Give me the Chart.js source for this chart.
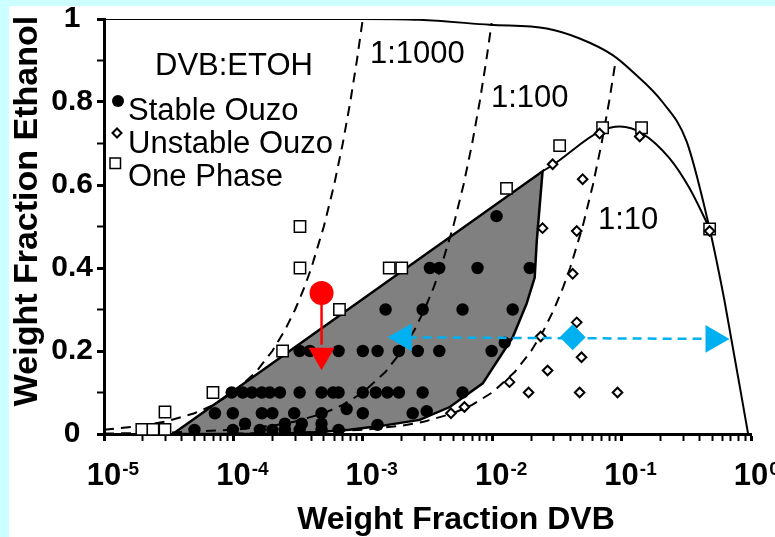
<!DOCTYPE html>
<html>
<head>
<meta charset="utf-8">
<script src="https://cdn.jsdelivr.net/npm/chart.js@4.4.1/dist/chart.umd.min.js"></script>
<style>
  html, body { margin: 0; padding: 0; background: #fff; }
</style>
</head>
<body>
<canvas id="myChart" width="775" height="537"></canvas>
<script>
// Ejes
const xTickExponents = [-5, -4, -3, -2, -1, 0];
const yTickLabels = ['0', '0.2', '0.4', '0.6', '0.8', '1'];

// Puntos experimentales [DVB, etanol]
const stableOuzo = [
  [0.0108, 0.525],
  [3.3e-3, 0.4], [3.9e-3, 0.4], [7.7e-3, 0.4], [0.0195, 0.4],
  [1.5e-3, 0.3], [2.9e-3, 0.3], [5.9e-3, 0.3], [0.0144, 0.3],
  [0.0125, 0.22],
  [3.25e-4, 0.2], [3.9e-4, 0.2], [6.5e-4, 0.2], [1.0e-3, 0.2], [1.3e-3, 0.2], [1.9e-3, 0.2], [2.66e-3, 0.2], [3.9e-3, 0.2], [9.9e-3, 0.2],
  [9.7e-5, 0.1], [1.18e-4, 0.1], [1.39e-4, 0.1], [1.66e-4, 0.1], [1.91e-4, 0.1], [2.29e-4, 0.1], [3.25e-4, 0.1], [4.8e-4, 0.1],
  [5.9e-4, 0.1], [6.5e-4, 0.1], [1.0e-3, 0.1], [1.26e-3, 0.1], [1.55e-3, 0.1], [1.9e-3, 0.1], [2.9e-3, 0.1], [5.9e-3, 0.1],
  [7.2e-5, 0.05], [9.9e-5, 0.05], [1.66e-4, 0.05], [2.0e-4, 0.05], [2.95e-4, 0.05], [4.8e-4, 0.05], [7.5e-4, 0.06], [1.0e-3, 0.05],
  [2.43e-3, 0.05], [3.12e-3, 0.055],
  [1.23e-4, 0.025], [2.5e-4, 0.025], [3.38e-4, 0.025], [4.8e-4, 0.025], [1.3e-3, 0.022],
  [5.0e-5, 0.01], [9.9e-5, 0.01], [1.6e-4, 0.01], [2.0e-4, 0.01], [2.5e-4, 0.01], [3.25e-4, 0.01], [4.8e-4, 0.01], [6.5e-4, 0.01]
];
const unstableOuzo = [
  [0.0293, 0.65], [0.050, 0.614], [0.0676, 0.724], [0.138, 0.717], [0.479, 0.489],
  [0.0245, 0.496], [0.045, 0.489], [0.0419, 0.386], [0.045, 0.269], [0.0237, 0.235],
  [0.049, 0.185], [0.0268, 0.153], [0.0136, 0.125], [0.0191, 0.10], [0.0474, 0.10],
  [0.093, 0.10], [0.0061, 0.065], [0.0048, 0.05]
];
const onePhase = [
  [1.96e-5, 0.011], [2.39e-5, 0.011], [2.96e-5, 0.011], [2.96e-5, 0.053], [6.95e-5, 0.1],
  [2.4e-4, 0.2], [3.27e-4, 0.4], [3.27e-4, 0.5], [6.6e-4, 0.3], [1.6e-3, 0.4], [2.0e-3, 0.4],
  [0.0129, 0.592], [0.0332, 0.695], [0.0713, 0.738], [0.1426, 0.738], [0.479, 0.494]
];

// Curvas binodales
const outerX = [1e-5, 1e-4, 1e-3, 2.75e-3, 9.6e-3, 0.0264, 0.0474, 0.0853, 0.1217, 0.207, 0.318, 0.478, 0.542, 0.624, 0.95];
const outerY = [1.0, 1.0, 1.0, 0.998, 0.986, 0.977, 0.953, 0.913, 0.873, 0.80, 0.705, 0.496, 0.417, 0.321, 0.0];
const innerX = [0.0245, 0.030, 0.068, 0.097, 0.145, 0.235, 0.335, 0.478];
const innerY = [0.633, 0.65, 0.729, 0.741, 0.724, 0.664, 0.592, 0.496];

// Zona gris (ouzo estable)
const grayX = [3.4e-5, 0.0245, 0.0221, 0.0213, 0.01845, 0.0144, 0.00845, 0.0047, 0.00275, 0.00135, 7.9e-4, 3.3e-4, 1.6e-4, 3.4e-5];
const grayY = [0, 0.633, 0.465, 0.377, 0.314, 0.233, 0.122, 0.065, 0.034, 0.019, 0.01, 0.002, 0, 0];

// Lineas de dilucion DVB:ETOH
const ratio1000X = [1e-5, 2e-5, 3e-5, 5e-5, 7e-5, 1e-4, 1.5e-4, 2e-4, 2.5e-4, 3e-4, 3.5e-4, 4e-4, 5e-4, 6e-4, 7e-4, 8e-4, 9e-4, 1e-3];
const ratio1000Y = [0.01, 0.02, 0.03, 0.05, 0.07, 0.1, 0.15, 0.2, 0.25, 0.3, 0.35, 0.4, 0.5, 0.6, 0.7, 0.8, 0.9, 1.0];
const ratio100X = [1e-5, 3e-5, 1e-4, 2e-4, 3e-4, 5e-4, 7e-4, 1e-3, 1.5e-3, 2e-3, 2.5e-3, 3e-3, 3.5e-3, 4e-3, 5e-3, 6e-3, 7e-3, 8e-3, 9e-3, 9.9e-3];
const ratio100Y = [0.001, 0.003, 0.01, 0.02, 0.03, 0.05, 0.07, 0.1, 0.15, 0.2, 0.25, 0.3, 0.35, 0.4, 0.5, 0.6, 0.7, 0.8, 0.9, 0.99];
const ratio10X = [1e-4, 3e-4, 1e-3, 2e-3, 3e-3, 5e-3, 7e-3, 0.01, 0.015, 0.02, 0.025, 0.03, 0.035, 0.04, 0.05, 0.06, 0.07, 0.08, 0.0895];
const ratio10Y = [0.001, 0.003, 0.01, 0.02, 0.03, 0.05, 0.07, 0.1, 0.15, 0.2, 0.25, 0.3, 0.35, 0.4, 0.5, 0.6, 0.7, 0.8, 0.895];

// Flechas
const redArrowX = [4.8e-4, 4.8e-4];
const redArrowY = [0.34, 0.215];
const redHead = [[4.8e-4, 0.19]];
const blueArrowX = [1.7e-3, 0.62];
const blueArrowY = [0.233, 0.229];
const blueHeadLeft = [[2.07e-3, 0.233]];
const blueHeadRight = [[0.513, 0.229]];
const blueDiamond = [[0.0419, 0.233]];

const FONT = "'Liberation Sans', Arial, Helvetica, sans-serif";
Chart.defaults.font.family = FONT;
Chart.defaults.color = '#000';

const pts = (xs, ys) => xs.map((x, i) => ({ x: x, y: ys[i] }));
const pairs = arr => arr.map(p => ({ x: p[0], y: p[1] }));

// ticks menores del eje log
const xTicks = [];
xTickExponents.forEach(e => {
  const m = e === 0 ? [1] : [1, 2, 3, 4, 5, 6, 7, 8, 9];
  m.forEach(k => xTicks.push(k * Math.pow(10, e)));
});

const lineDs = (data, extra) => Object.assign({
  type: 'line', data: data, borderColor: '#000', borderWidth: 2,
  pointRadius: 0, fill: false, tension: 0, order: 5
}, extra);

const decor = {
  id: 'decor',
  beforeDraw(chart) {
    const ctx = chart.ctx;
    ctx.save();
    ctx.fillStyle = '#ccffff';
    ctx.fillRect(0, 0, chart.width, chart.height);
    ctx.fillStyle = '#ffffff';
    ctx.fillRect(9, 6, chart.width - 9, chart.height - 6);
    ctx.restore();
  },
  afterDraw(chart) {
    const ctx = chart.ctx;
    const xs = chart.scales.x;
    ctx.save();
    ctx.fillStyle = '#000';

    // etiquetas 10^n
    xTickExponents.forEach(e => {
      const px = xs.getPixelForValue(Math.pow(10, e));
      ctx.font = 'bold 31px ' + FONT;
      ctx.textAlign = 'center';
      ctx.textBaseline = 'alphabetic';
      ctx.fillText('10', px, 485);
      const w = ctx.measureText('10').width;
      ctx.font = 'bold 19px ' + FONT;
      ctx.textAlign = 'left';
      ctx.fillText(String(e), px + w / 2 + 1, 475);
    });

    // titulos
    ctx.font = 'bold 32px ' + FONT;
    ctx.textAlign = 'center';
    ctx.fillText('Weight Fraction DVB', 456, 529);
    ctx.save();
    ctx.translate(37, 211);
    ctx.rotate(-Math.PI / 2);
    ctx.font = 'bold 34px ' + FONT;
    ctx.fillText('Weight Fraction Ethanol', 0, 0);
    ctx.restore();

    // textos
    ctx.font = '31px ' + FONT;
    ctx.textAlign = 'left';
    ctx.fillText('DVB:ETOH', 155, 75);
    ctx.fillText('1:1000', 370, 63);
    ctx.fillText('1:100', 491, 107);
    ctx.fillText('1:10', 598, 229);
    ctx.fillText('Stable Ouzo', 128, 120);
    ctx.fillText('Unstable Ouzo', 128, 153);
    ctx.fillText('One Phase', 128, 186);

    // simbolos de la leyenda
    ctx.beginPath();
    ctx.arc(118, 101, 6, 0, Math.PI * 2);
    ctx.fill();
    ctx.strokeStyle = '#000';
    ctx.lineWidth = 2;
    ctx.fillStyle = '#fff';
    ctx.beginPath();
    ctx.moveTo(117 - 4.5, 133); ctx.lineTo(117, 133 - 4.5);
    ctx.lineTo(117 + 4.5, 133); ctx.lineTo(117, 133 + 4.5);
    ctx.closePath();
    ctx.fill(); ctx.stroke();
    ctx.lineWidth = 1.5;
    ctx.fillRect(110, 158, 10.5, 10.5);
    ctx.strokeRect(110, 158, 10.5, 10.5);
    ctx.restore();
  }
};

const ctx = document.getElementById('myChart').getContext('2d');
new Chart(ctx, {
  type: 'scatter',
  data: {
    datasets: [
      lineDs(pts(grayX, grayY), { fill: 'shape', backgroundColor: '#808080', borderWidth: 2.5, order: 10 }),
      lineDs(pts(outerX, outerY), { cubicInterpolationMode: 'monotone' }),
      lineDs(pts(innerX, innerY), { cubicInterpolationMode: 'monotone' }),
      lineDs(pts(ratio1000X, ratio1000Y), { borderDash: [10, 7] }),
      lineDs(pts(ratio100X, ratio100Y), { borderDash: [10, 7] }),
      lineDs(pts(ratio10X, ratio10Y), { borderDash: [10, 7] }),
      {
        label: 'Stable Ouzo', data: pairs(stableOuzo), pointStyle: 'circle', pointRadius: 6.2,
        backgroundColor: '#000', borderWidth: 0, clip: false, order: 2
      },
      {
        label: 'Unstable Ouzo', data: pairs(unstableOuzo), pointStyle: 'rectRot', pointRadius: 4.8,
        backgroundColor: '#fff', borderColor: '#000', borderWidth: 2, clip: false, order: 2
      },
      {
        label: 'One Phase', data: pairs(onePhase), pointStyle: 'rect', pointRadius: 8,
        backgroundColor: '#fff', borderColor: '#000', borderWidth: 1.5, clip: false, order: 2
      },
      lineDs(pts(redArrowX, redArrowY), { borderColor: '#ff0000', borderWidth: 2.5, order: 1 }),
      {
        data: [pts(redArrowX, redArrowY)[0]], pointStyle: 'circle', pointRadius: 12,
        backgroundColor: '#ff0000', borderWidth: 0, order: 0
      },
      {
        data: pairs(redHead), pointStyle: 'triangle', rotation: 180, pointRadius: 15,
        backgroundColor: '#ff0000', borderWidth: 0, order: 0
      },
      lineDs(pts(blueArrowX, blueArrowY), { borderColor: '#00b0f0', borderWidth: 2.5, borderDash: [9, 6], order: 1 }),
      {
        data: pairs(blueHeadLeft), pointStyle: 'triangle', rotation: -90, pointRadius: 16,
        backgroundColor: '#00b0f0', borderWidth: 0, order: 0
      },
      {
        data: pairs(blueHeadRight), pointStyle: 'triangle', rotation: 90, pointRadius: 16,
        backgroundColor: '#00b0f0', borderWidth: 0, order: 0
      },
      {
        data: pairs(blueDiamond), pointStyle: 'rectRot', pointRadius: 13,
        backgroundColor: '#00b0f0', borderWidth: 0, order: 0
      }
    ]
  },
  options: {
    responsive: false,
    animation: false,
    events: [],
    layout: { padding: { top: 17, right: 24, left: 0, bottom: 0 } },
    plugins: { legend: { display: false }, tooltip: { enabled: false } },
    scales: {
      x: {
        type: 'logarithmic', min: 1e-5, max: 1, z: 1,
        afterBuildTicks: s => { s.ticks = xTicks.map(v => ({ value: v, major: Math.abs(Math.log10(v) - Math.round(Math.log10(v))) < 1e-9 })); },
        afterFit: s => { s.height = 103; },
        border: { color: '#000', width: 3 },
        grid: {
          drawOnChartArea: false, tickLength: 7, tickColor: '#000',
          tickWidth: c => (c.tick && c.tick.major ? 3 : 2)
        },
        ticks: { autoSkip: false, maxRotation: 0, callback: () => '' }
      },
      y: {
        min: 0, max: 1, z: 1,
        afterFit: s => { s.width = 104; },
        border: { color: '#000', width: 3 },
        grid: {
          drawOnChartArea: false, tickLength: 7, tickColor: '#000',
          tickWidth: c => (c.index % 2 === 0 ? 3 : 2)
        },
        ticks: {
          stepSize: 0.1, autoSkip: false, padding: 4, crossAlign: 'center', color: '#000',
          font: { size: 30, weight: 'bold', lineHeight: 1 },
          callback: v => {
            const i = Math.round(v * 10);
            return i % 2 === 0 ? yTickLabels[i / 2] : '';
          }
        }
      }
    }
  },
  plugins: [decor]
});
</script>
</body>
</html>
